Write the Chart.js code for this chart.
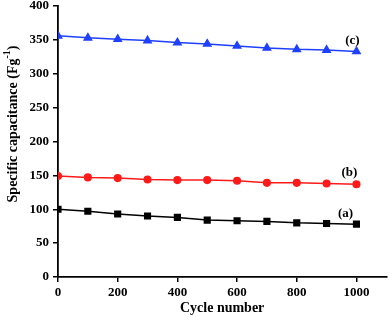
<!DOCTYPE html>
<html>
<head>
<meta charset="utf-8">
<script src="https://cdn.jsdelivr.net/npm/chart.js@4"></script>
<style>
  html, body { margin: 0; padding: 0; background: #fff; }
  #wrap { width: 392px; height: 317px; }
</style>
</head>
<body>
<div id="wrap"><canvas id="cap_chart"></canvas></div>
<script>
var cycles = [0, 100, 200, 300, 400, 500, 600, 700, 800, 900, 1000];
var series_a = [100, 97, 93, 90, 88, 84, 83, 82, 80, 79, 78];
var series_b = [149, 147, 146, 144, 143, 143, 142, 139, 139, 138, 137];
var series_c = [356, 353, 351, 349, 346, 344, 341, 338, 336, 335, 333];
var x_ticks = [0, 200, 400, 600, 800, 1000];
var curve_names = ["(a)", "(b)", "(c)"];

var serif = "'Liberation Serif', 'Times New Roman', serif";

function toXY(vals) {
    return vals.map(function(v, i) { return { x: cycles[i], y: v }; });
}

// labels (a) (b) (c) next to the end of each curve + y title
var labelPlugin = {
    id: "curveLabels",
    afterDatasetsDraw: function(chart) {
        var c = chart.ctx;
        var xs = chart.scales.x, ys = chart.scales.y;
        c.save();
        c.fillStyle = "#000";
        c.font = "bold 13px " + serif;
        c.textAlign = "center";
        c.textBaseline = "middle";
        var offs = [[-11, -11], [-7, -12], [-4, -11]];
        chart.data.datasets.forEach(function(ds, i) {
            var last = ds.data[ds.data.length - 1];
            c.fillText(curve_names[i], xs.getPixelForValue(last.x) + offs[i][0], ys.getPixelForValue(last.y) + offs[i][1]);
        });

        // y axis title with superscript
        c.translate(13, 124);
        c.rotate(-Math.PI / 2);
        c.textBaseline = "middle";
        c.textAlign = "left";
        var main = "Specific capacitance (Fg";
        var sup = "-1";
        c.font = "bold 14px " + serif;
        var w1 = c.measureText(main).width;
        var w3 = c.measureText(")").width;
        c.font = "bold 10px " + serif;
        var w2 = c.measureText(sup).width;
        var start = -(w1 + w2 + w3) / 2;
        c.font = "bold 14px " + serif;
        c.fillText(main, start, 0);
        c.font = "bold 10px " + serif;
        c.fillText(sup, start + w1, -6);
        c.font = "bold 14px " + serif;
        c.fillText(")", start + w1 + w2, 0);
        c.restore();
    }
};

new Chart(document.getElementById("cap_chart"), {
    type: "line",
    data: {
        datasets: [{
            label: "a",
            data: toXY(series_a),
            borderColor: "#000000",
            backgroundColor: "#000000",
            pointStyle: "rect",
            pointRadius: 4,
            borderWidth: 1.5
        }, {
            label: "b",
            data: toXY(series_b),
            borderColor: "#ff1a1a",
            backgroundColor: "#ff1a1a",
            pointStyle: "circle",
            pointRadius: 3.3,
            borderWidth: 1.5
        }, {
            label: "c",
            data: toXY(series_c),
            borderColor: "#2040ff",
            backgroundColor: "#2040ff",
            pointStyle: "triangle",
            pointRadius: 4.2,
            borderWidth: 1.5
        }]
    },
    plugins: [labelPlugin],
    options: {
        responsive: true,
        maintainAspectRatio: false,
        animation: false,
        layout: { padding: { top: 6, right: 2, left: 0, bottom: 0 } },
        plugins: {
            legend: { display: false },
            tooltip: { enabled: false }
        },
        scales: {
            x: {
                type: "linear",
                min: 0,
                max: 1100,
                afterBuildTicks: function(scale) {
                    scale.ticks = x_ticks.map(function(v) { return { value: v }; });
                },
                ticks: {
                    color: "#000",
                    padding: 3,
                    maxRotation: 0,
                    autoSkip: false,
                    callback: function(v) { return String(v); },
                    font: { family: serif, size: 13, weight: "bold" }
                },
                grid: { drawOnChartArea: false, drawTicks: true, tickLength: 5, color: "#000", lineWidth: 1.5 },
                border: { display: true, color: "#000", width: 1.8 },
                title: {
                    display: true,
                    text: "Cycle number",
                    color: "#000",
                    padding: { top: 1, bottom: 0 },
                    font: { family: serif, size: 14, weight: "bold" }
                },
                afterFit: function(scale) { scale.height = 40; }
            },
            y: {
                min: 0,
                max: 400,
                ticks: {
                    stepSize: 50,
                    color: "#000",
                    padding: 4,
                    font: { family: serif, size: 13, weight: "bold" }
                },
                grid: { drawOnChartArea: false, drawTicks: true, tickLength: 5, color: "#000", lineWidth: 1.5 },
                border: { display: true, color: "#000", width: 1.8 },
                afterFit: function(scale) {
                    scale.width = 58;
                    scale.paddingTop = 0;
                    scale.paddingBottom = 0;
                }
            }
        }
    }
});
</script>
</body>
</html>
